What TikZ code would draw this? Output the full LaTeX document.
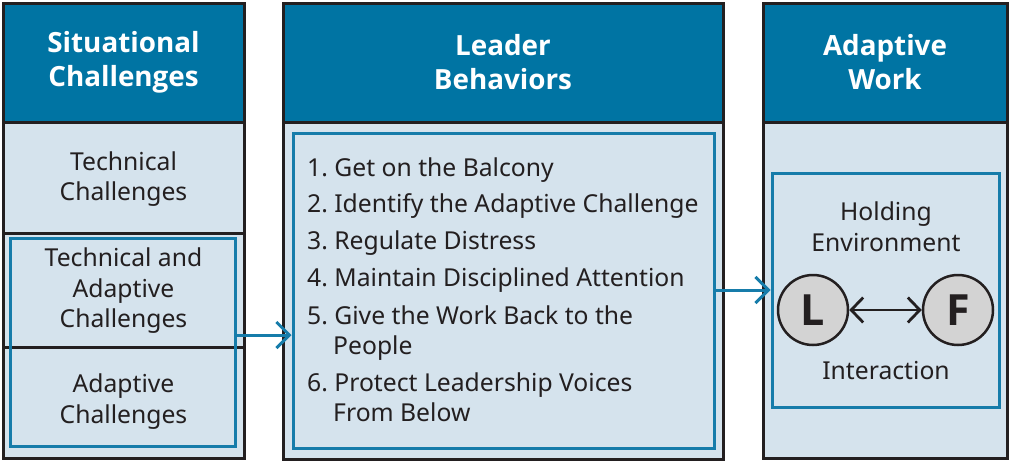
\documentclass[tikz,border=0pt]{standalone}
\usepackage{fontspec}
\setmainfont{Noto Sans}
\newfontfamily\headfont{Open Sans}
\usetikzlibrary{arrows.meta}
\definecolor{headblue}{RGB}{0,116,163}
\definecolor{lightfill}{RGB}{213,227,237}
\definecolor{lineblue}{RGB}{22,124,170}
\definecolor{darkline}{RGB}{35,31,32}
\definecolor{circgray}{RGB}{211,211,211}
\tikzset{
  colbox/.style={draw=darkline, line width=3pt, fill=lightfill},
  headbox/.style={draw=darkline, line width=3pt, fill=headblue},
  innerbox/.style={draw=lineblue, line width=3pt},
  headtext/.style={text=white, font=\headfont\bfseries\fontsize{27.8}{34}\selectfont, align=center, inner sep=0pt},
  bodytext/.style={text=darkline, font=\fontsize{24.7}{30.5}\selectfont, align=center, inner sep=0pt},
  itemtext/.style={text=darkline, font=\fontsize{24.7}{30.5}\selectfont, anchor=base west, inner sep=0pt},
  flowarrow/.style={draw=lineblue, line width=3pt, -{Straight Barb[length=13pt,width=26pt,line width=3pt]}},
  person/.style={circle, draw=darkline, line width=2.5pt, fill=circgray, minimum size=70pt, inner sep=0pt, font=\headfont\bfseries\fontsize{43}{43}\selectfont, text=darkline},
  linkarrow/.style={draw=darkline, line width=2.8pt, {Straight Barb[length=12pt,width=25pt,line width=2.8pt]}-{Straight Barb[length=12pt,width=25pt,line width=2.8pt]}}
}
\frenchspacing
\begin{document}
\begin{tikzpicture}[x=1pt,y=-1pt]
\useasboundingbox (0,0) rectangle (1010,461);
% left column
\path[colbox] (3,122) rectangle (244,458);
\draw[darkline, line width=3pt] (3,233) -- (244,233);
\draw[darkline, line width=3pt] (3,347) -- (244,347);
\path[headbox] (3,3) rectangle (244,122);
\node[headtext] (h1) at (123.5,62.5) {Situational\\Challenges};
\node[bodytext] (c1) at (123.5,179) {Technical\\Challenges};
\node[bodytext] (c2) at (123.5,291) {Technical and\\Adaptive\\Challenges};
\node[bodytext] (c3) at (123.5,401.5) {Adaptive\\Challenges};
\node[innerbox, minimum width=225pt, minimum height=208pt, inner sep=0pt] (lb) at (122.5,342) {};
% middle column
\path[colbox] (283,122) rectangle (723,459);
\path[headbox] (283,3) rectangle (723,122);
\node[headtext] (h2) at (503,62.5) {Leader\\Behaviors};
\node[innerbox, minimum width=421pt, minimum height=315pt, inner sep=0pt] (mb) at (503.5,290.5) {};
\node[itemtext] (i1) at (307,176) {1. Get on the Balcony};
\node[itemtext] (i2) at (307,212) {2. Identify the Adaptive Challenge};
\node[itemtext] (i3) at (307,249) {3. Regulate Distress};
\node[itemtext] (i4) at (307,286) {4. Maintain Disciplined Attention};
\node[itemtext] (i5) at (307,324) {5. Give the Work Back to the};
\node[itemtext] (i5b) at (333,354) {People};
\node[itemtext] (i6) at (307,391) {6. Protect Leadership Voices};
\node[itemtext] (i6b) at (333,421) {From Below};
% right column
\path[colbox] (763,122) rectangle (1007,458);
\path[headbox] (763,3) rectangle (1007,122);
\node[headtext] (h3) at (885,62.5) {Adaptive\\Work};
\node[innerbox, minimum width=227pt, minimum height=234pt, inner sep=0pt] (rb) at (885.5,290) {};
\node[bodytext] (he) at (886,226.5) {Holding\\Environment};
\node[bodytext] (ia) at (886,370.5) {Interaction};
\node[person] (L) at (813,310) {L};
\node[person] (F) at (958,310) {F};
\draw[linkarrow] (L) -- (F);
% flow arrows
\coordinate (a1s) at (lb.east |- 0,335);
\coordinate (a1e) at (mb.west |- 0,335);
\draw[flowarrow] (a1s) -- (a1e);
\coordinate (a2s) at (mb.east |- 0,290);
\draw[flowarrow] (a2s) -- (rb.west);
\end{tikzpicture}
\end{document}
